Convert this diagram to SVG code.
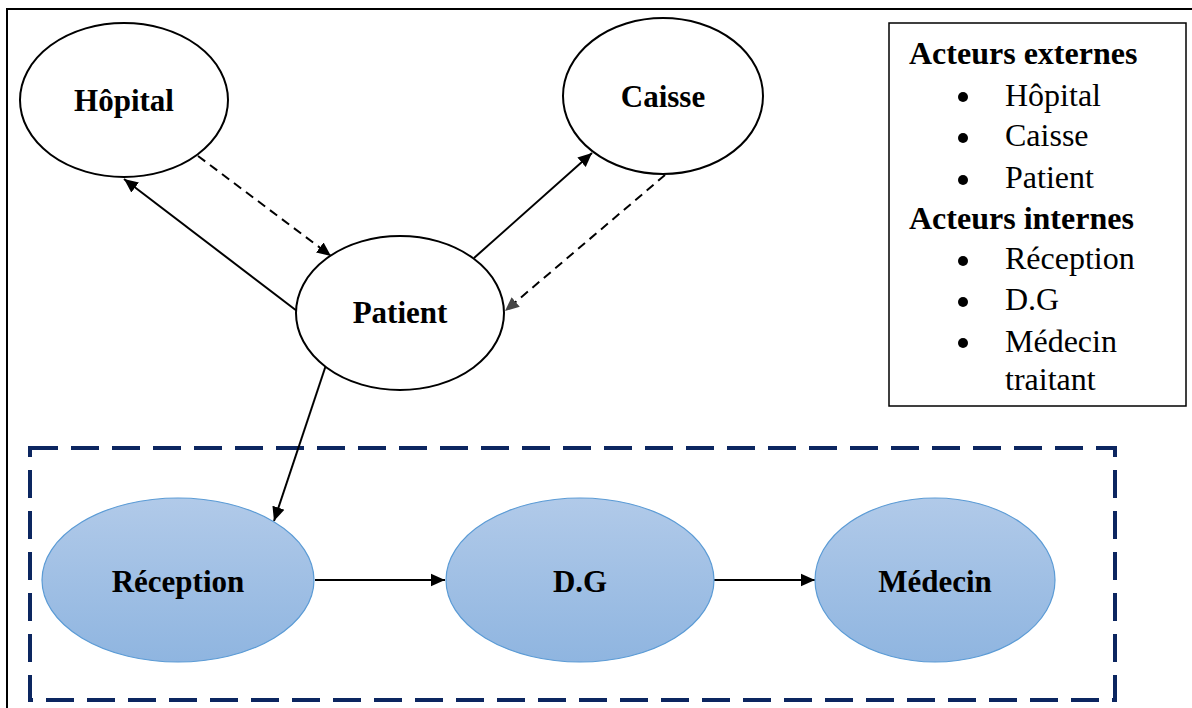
<svg xmlns="http://www.w3.org/2000/svg" width="1192" height="708" viewBox="0 0 1192 708">
<style>
.ext{fill:#fff;stroke:#000;stroke-width:2}
.int{fill:url(#blue);stroke:#5b9bd5;stroke-width:1.2}
.lbl{font-family:"Liberation Serif",serif;font-weight:bold;font-size:31px;text-anchor:middle;fill:#000}
.leg{font-family:"Liberation Serif",serif;font-size:32px;fill:#000}
.legb{font-family:"Liberation Serif",serif;font-size:32px;font-weight:bold;fill:#000}
.c{fill:none;stroke:#000;stroke-width:2}
</style>
<defs>
<linearGradient id="blue" x1="0" y1="0" x2="0" y2="1">
<stop offset="0" stop-color="#b1cae9"/>
<stop offset="1" stop-color="#8fb5e0"/>
</linearGradient>
<marker id="ah" viewBox="0 0 10 10" refX="10" refY="5" markerWidth="7" markerHeight="7" orient="auto" markerUnits="strokeWidth">
<path d="M0,0.5 L10,5 L0,9.5 z" fill="#000"/>
</marker>
<marker id="ahg" viewBox="0 0 10 10" refX="10" refY="5" markerWidth="7" markerHeight="7" orient="auto" markerUnits="strokeWidth">
<path d="M0,0.5 L10,5 L0,9.5 z" fill="#444"/>
</marker>
</defs>
<rect width="1192" height="708" fill="#fff"/>
<path d="M7,720 L7,9 L1200,9" fill="none" stroke="#000" stroke-width="2"/>
<rect x="30" y="448" width="1085" height="252" fill="none" stroke="#0c2660" stroke-width="4" stroke-dasharray="28,13"/>
<g id="legend">
<rect x="889" y="23" width="297" height="383" fill="#fff" stroke="#000" stroke-width="1.5"/>
<text class="legb" x="909" y="64">Acteurs externes</text>
<circle cx="963" cy="97" r="5"/><text class="leg" x="1005" y="106">Hôpital</text>
<circle cx="963" cy="138" r="5"/><text class="leg" x="1005" y="146">Caisse</text>
<circle cx="963" cy="180" r="5"/><text class="leg" x="1005" y="188">Patient</text>
<text class="legb" x="909" y="229">Acteurs internes</text>
<circle cx="963" cy="261" r="5"/><text class="leg" x="1005" y="269">Réception</text>
<circle cx="963" cy="302" r="5"/><text class="leg" x="1005" y="310">D.G</text>
<circle cx="963" cy="343" r="5"/><text class="leg" x="1005" y="352">Médecin</text>
<text class="leg" x="1005" y="390">traitant</text>
</g>
<g id="connectors">
<line class="c" x1="297" y1="311" x2="124" y2="179" marker-end="url(#ah)"/>
<line class="c" x1="198" y1="156" x2="331" y2="256" stroke-dasharray="9,6" marker-end="url(#ah)"/>
<line class="c" x1="474" y1="258" x2="592" y2="153" marker-end="url(#ah)"/>
<line class="c" x1="665" y1="175" x2="505" y2="311" stroke="#555" stroke-dasharray="9,6" marker-end="url(#ahg)"/>
<line class="c" x1="326" y1="365" x2="274" y2="521" marker-end="url(#ah)"/>
<line class="c" x1="315" y1="580" x2="445" y2="580" marker-end="url(#ah)"/>
<line class="c" x1="714" y1="580" x2="815" y2="580" marker-end="url(#ah)"/>
</g>
<g id="hopital"><ellipse class="ext" cx="124" cy="100" rx="104" ry="77"/><text class="lbl" x="124" y="111">Hôpital</text></g>
<g id="caisse"><ellipse class="ext" cx="663" cy="96" rx="100" ry="78"/><text class="lbl" x="663" y="107">Caisse</text></g>
<g id="patient"><ellipse class="ext" cx="400" cy="313" rx="104" ry="77"/><text class="lbl" x="400" y="323">Patient</text></g>
<g id="reception"><ellipse class="int" cx="178" cy="580" rx="136" ry="82"/><text class="lbl" x="178" y="592">Réception</text></g>
<g id="dg"><ellipse class="int" cx="580" cy="580" rx="134" ry="82"/><text class="lbl" x="580" y="592">D.G</text></g>
<g id="medecin"><ellipse class="int" cx="935" cy="580" rx="120" ry="82"/><text class="lbl" x="935" y="592">Médecin</text></g>
</svg>
